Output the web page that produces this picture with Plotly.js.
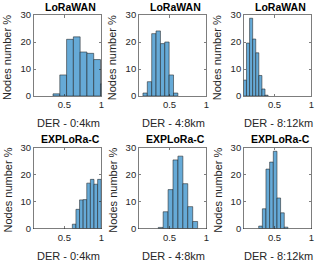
<!DOCTYPE html>
<html>
<head>
<meta charset="utf-8">
<script src="https://cdn.plot.ly/plotly-3.0.1.min.js"></script>
<style>html,body{margin:0;padding:0;background:#fff;}#chart{width:316px;height:264px;}</style>
</head>
<body>
<div id="chart"></div>
<script>
// Histogram bin edges (DER) and heights (Nodes number %) per panel
const panelTitles = ["LoRaWAN", "LoRaWAN", "LoRaWAN", "EXPLoRa-C", "EXPLoRa-C", "EXPLoRa-C"];
const xLabels = ["DER - 0:4km", "DER - 4:8km", "DER - 8:12km", "DER - 0:4km", "DER - 4:8km", "DER - 8:12km"];
const yLabel = "Nodes number %";

const edgesLoRa04 = [0.345, 0.437, 0.529, 0.621, 0.713, 0.805, 0.897, 0.989, 1.081];
const valsLoRa04  = [0.8, 7.8, 21.0, 21.9, 16.3, 15.8, 13.5, 4.5];
const edgesLoRa48 = [0.138, 0.197, 0.257, 0.316, 0.376, 0.435, 0.494, 0.554, 0.613];
const valsLoRa48  = [1.1, 5.3, 23.1, 24.1, 19.4, 20.0, 7.8, 1.1];
const edgesLoRa812 = [0.076, 0.118, 0.160, 0.202, 0.244, 0.286, 0.328, 0.370, 0.412];
const valsLoRa812  = [5.9, 19.6, 28.8, 21.1, 16.0, 7.6, 2.6, 0.3];
const edgesExp04 = [0.607, 0.656, 0.705, 0.754, 0.803, 0.852, 0.901, 0.950, 0.999];
const valsExp04  = [1.6, 7.1, 10.6, 10.7, 16.8, 18.2, 16.4, 18.2];
const edgesExp48 = [0.346, 0.413, 0.480, 0.547, 0.614, 0.681, 0.748, 0.815, 0.882];
const valsExp48  = [0.4, 6.2, 14.4, 25.4, 26.8, 16.6, 8.1, 2.6];
const edgesExp812 = [0.284, 0.334, 0.383, 0.433, 0.483, 0.533, 0.582, 0.632, 0.682];
const valsExp812  = [0.9, 7.3, 22.0, 24.6, 28.6, 11.3, 5.8, 0.5];

const xTickVals = [0.5, 1];
const xTickText = ["0.5", "1"];
const yTickVals = [0, 10, 20, 30];
const yTickText = ["0", "10", "20", "30"];

const panels = [
  [edgesLoRa04, valsLoRa04], [edgesLoRa48, valsLoRa48], [edgesLoRa812, valsLoRa812],
  [edgesExp04, valsExp04], [edgesExp48, valsExp48], [edgesExp812, valsExp812]
];

const W = 316, H = 264;
const colPx = [[33.5, 101.3], [138.7, 206.3], [243.7, 311.3]];
const rowPx = [[15, 96], [147.5, 228.5]];
const axisColor = "#262626";
const faceColor = "rgb(102,170,215)";
const fontFam = "Liberation Sans, Arial, sans-serif";

const data = [];
const layout = {
  width: W, height: H,
  margin: {l: 0, r: 0, t: 0, b: 0},
  paper_bgcolor: "#fff", plot_bgcolor: "#fff",
  showlegend: false,
  bargap: 0,
  font: {family: fontFam, size: 10, color: axisColor},
  annotations: []
};

panels.forEach(function(p, i) {
  const edges = p[0], vals = p[1];
  const centers = [], widths = [];
  for (let k = 0; k < vals.length; k++) {
    centers.push((edges[k] + edges[k + 1]) / 2);
    widths.push(edges[k + 1] - edges[k]);
  }
  const n = i + 1;
  const suf = n === 1 ? "" : String(n);
  data.push({
    type: "bar", x: centers, y: vals, width: widths,
    xaxis: "x" + suf, yaxis: "y" + suf,
    marker: {color: faceColor, line: {color: "rgba(30,30,30,0.9)", width: 0.6}},
    hoverinfo: "skip"
  });
  const col = i % 3, row = Math.floor(i / 3);
  const cx = colPx[col], ry = rowPx[row];
  layout["xaxis" + suf] = {
    domain: [cx[0] / W, cx[1] / W],
    anchor: "y" + suf,
    range: [0.08, 1],
    tickvals: xTickVals, ticktext: xTickText,
    ticks: "inside", ticklen: 2.5, tickwidth: 0.6, tickcolor: axisColor,
    showline: true, linecolor: axisColor, linewidth: 0.6, mirror: "ticks",
    showgrid: false, zeroline: false,
    tickfont: {family: fontFam, size: 9.5, color: axisColor},
    automargin: false, fixedrange: true
  };
  layout["yaxis" + suf] = {
    domain: [1 - ry[1] / H, 1 - ry[0] / H],
    anchor: "x" + suf,
    range: [0, 30],
    tickvals: yTickVals, ticktext: yTickText,
    ticks: "inside", ticklen: 2.5, tickwidth: 0.6, tickcolor: axisColor,
    showline: true, linecolor: axisColor, linewidth: 0.6, mirror: "ticks",
    showgrid: false, zeroline: false,
    tickfont: {family: fontFam, size: 9.5, color: axisColor},
    automargin: false, fixedrange: true
  };
  // subplot title
  layout.annotations.push({
    text: "<b>" + panelTitles[i] + "</b>", xref: "paper", yref: "paper",
    x: ((cx[0] + cx[1]) / 2 + 3) / W, y: 1 - (ry[0] - 8.5) / H,
    xanchor: "center", yanchor: "middle", showarrow: false,
    font: {family: fontFam, size: 10.5, color: "#000"}
  });
  // x label
  layout.annotations.push({
    text: xLabels[i], xref: "paper", yref: "paper",
    x: ((cx[0] + cx[1]) / 2 + 1) / W, y: 1 - (ry[1] + 27) / H,
    xanchor: "center", yanchor: "middle", showarrow: false,
    font: {family: fontFam, size: 11, color: axisColor}
  });
  // y label
  layout.annotations.push({
    text: yLabel, xref: "paper", yref: "paper", textangle: -90,
    x: (cx[0] - 26) / W, y: 1 - ((ry[0] + ry[1]) / 2 + 2) / H,
    xanchor: "center", yanchor: "middle", showarrow: false,
    font: {family: fontFam, size: 11, color: axisColor}
  });
});

Plotly.newPlot("chart", data, layout, {staticPlot: true, displayModeBar: false});
</script>
</body>
</html>
